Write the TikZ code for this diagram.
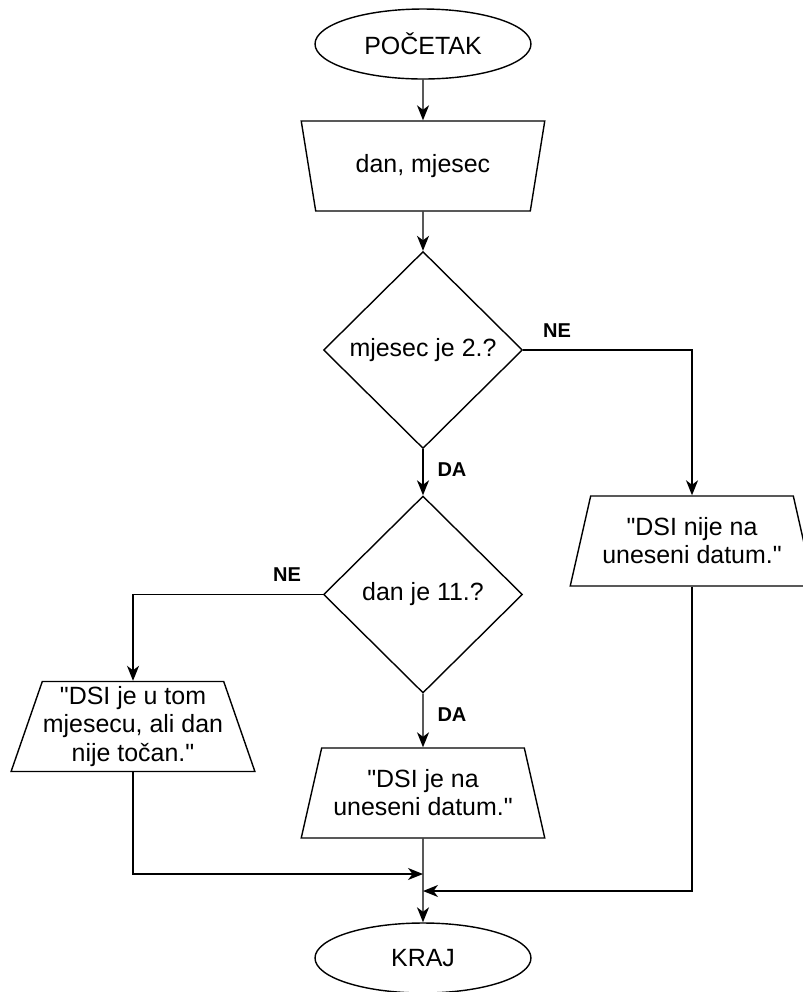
\documentclass[tikz,border=0pt]{standalone}
\usepackage{fontspec}
\setmainfont{Liberation Sans}
\usetikzlibrary{shapes.geometric,arrows.meta}

\tikzset{
    base/.style={draw, line width=0.8pt, align=center, inner sep=0pt,
        font=\fontsize{14.2}{16}\selectfont},
    terminal/.style={base, ellipse, minimum width=4.32cm, minimum height=1.40cm},
    io/.style={base, trapezium, trapezium stretches=true,
        trapezium left angle=68.7, trapezium right angle=68.7,
        minimum width=4.88cm, minimum height=1.8cm},
    decision/.style={base, diamond, minimum width=3.98cm, minimum height=3.94cm},
    lbl/.style={inner sep=0pt, font=\fontsize{11.4}{13}\selectfont\bfseries},
    flow/.style={line width=0.8pt, -{Stealth[length=0.3cm, width=0.24cm, inset=0.09cm]}}
}
\newcommand{\qt}{\textquotedbl}

\begin{document}
\begin{tikzpicture}[x=0.02cm, y=-0.02cm]
            \useasboundingbox (0,0) rectangle (803,992);
            \clip (0,0) rectangle (803,992);

            \node[terminal] (start) at (423,44) {POČETAK};
            \node[io, shape border rotate=180] (input) at (423,166) {dan, mjesec};
            \node[decision] (month) at (423,350) {mjesec je 2.?};
            \node[decision] (day) at (423,594.5) {dan je 11.?};
            \node[io] (notDate) at (692,541) {\qt DSI nije na\\uneseni datum.\qt};
            \node[io] (notDay) at (133,726.5) {\qt DSI je u tom\\mjesecu, ali dan\\nije točan.\qt};
            \node[io] (isDate) at (423,793) {\qt DSI je na\\uneseni datum.\qt};
            \node[terminal] (end) at (423,958) {KRAJ};

            \coordinate (joinL) at (423,874);
            \coordinate (joinR) at (423,891);

            \draw[flow] (start) -- (input);
            \draw[flow] (input) -- (month);
            \draw[flow] (month) -- (day);
            \draw[flow] (day) -- (isDate);
            \draw[flow] (isDate) -- (end);
            \draw[flow] (month.east) -| (notDate.north);
            \draw[flow] (day.west) -| (notDay.north);
            \draw[flow] (notDay.south) |- (joinL);
            \draw[flow] (notDate.south) |- (joinR);

            \node[lbl] (ne1) at (557,331) {NE};
            \node[lbl] (da1) at (452,470) {DA};
            \node[lbl] (ne2) at (287,575) {NE};
            \node[lbl] (da2) at (452,715) {DA};

          \end{tikzpicture}
\end{document}
